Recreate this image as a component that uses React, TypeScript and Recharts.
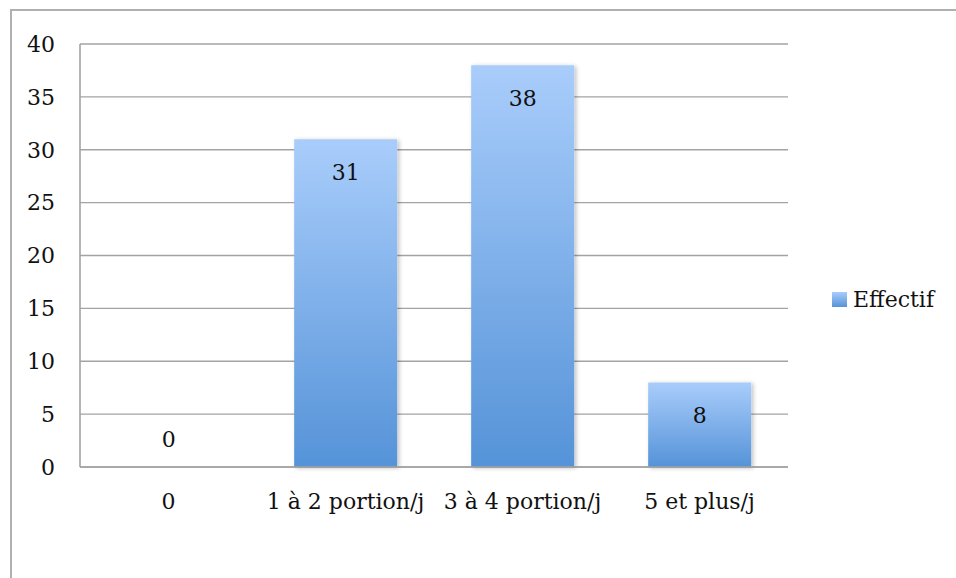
import React from 'react';
import { BarChart, Bar, XAxis, YAxis, CartesianGrid, LabelList } from 'recharts';

const categories = ['0', '1 à 2 portion/j', '3 à 4 portion/j', '5 et plus/j'];
const effectif = [0, 31, 38, 8];
const yTicks = [0, 5, 10, 15, 20, 25, 30, 35, 40];
const seriesName = 'Effectif';

const data = categories.map((name, i) => ({ name, effectif: effectif[i] }));

const FONT = '"DejaVu Serif", serif';
const GRID = '#a3a3a3';

const BarLabel = (props: any) => {
  const { x, y, width, value } = props;
  const cy = value > 0 ? y + 33 : y - 27;
  return (
    <text
      x={x + width / 2}
      y={cy}
      textAnchor="middle"
      dominantBaseline="central"
      fontFamily={FONT}
      fontSize={22}
      fill="#111"
    >
      {value}
    </text>
  );
};

export default function App() {
  return (
    <div style={{ position: 'absolute', left: 0, top: 0, width: 956, height: 578, overflow: 'hidden', background: '#fff' }}>
      <div
        style={{
          position: 'absolute',
          left: 10,
          top: 9,
          width: 980,
          height: 600,
          border: '2px solid #b0b0b0',
          boxSizing: 'border-box',
        }}
      />
      <div style={{ position: 'absolute', left: 0, top: 0 }}>
        <BarChart
          width={956}
          height={578}
          data={data}
          margin={{ top: 44, right: 168, bottom: 61, left: 10 }}
          barCategoryGap="21%"
        >
          <defs>
            <linearGradient id="barGrad" x1="0" y1="0" x2="0" y2="1">
              <stop offset="0%" stopColor="#a9cdfb" />
              <stop offset="100%" stopColor="#5593d8" />
            </linearGradient>
            <filter id="barShadow" x="-10%" y="-10%" width="130%" height="130%">
              <feDropShadow dx="2" dy="1" stdDeviation="2" floodColor="#000" floodOpacity="0.25" />
            </filter>
          </defs>
          <CartesianGrid vertical={false} stroke={GRID} strokeWidth={1.4} />
          <XAxis
            dataKey="name"
            axisLine={{ stroke: GRID, strokeWidth: 1.6 }}
            tickLine={false}
            tickSize={0}
            tickMargin={26}
            height={50}
            interval={0}
            tick={{ fontFamily: FONT, fontSize: 22, fill: '#111' }}
          />
          <YAxis
            domain={[0, 40]}
            ticks={yTicks}
            axisLine={{ stroke: GRID, strokeWidth: 1.6 }}
            tickLine={false}
            tickSize={0}
            tickMargin={25}
            width={70}
            tick={{ fontFamily: FONT, fontSize: 22, fill: '#111' }}
          />
          <Bar
            dataKey="effectif"
            name={seriesName}
            fill="url(#barGrad)"
            filter="url(#barShadow)"
            minPointSize={(v: number) => (v === 0 ? 0.01 : 0)}
            isAnimationActive={false}
          >
            <LabelList dataKey="effectif" content={<BarLabel />} />
          </Bar>
        </BarChart>
      </div>
      <div
        style={{
          position: 'absolute',
          left: 832,
          top: 287,
          display: 'flex',
          alignItems: 'center',
          fontFamily: FONT,
          fontSize: 22,
          color: '#111',
        }}
      >
        <div style={{ width: 15, height: 15, marginRight: 6, background: 'linear-gradient(#a9cdfb, #5593d8)' }} />
        <span>{seriesName}</span>
      </div>
    </div>
  );
}
